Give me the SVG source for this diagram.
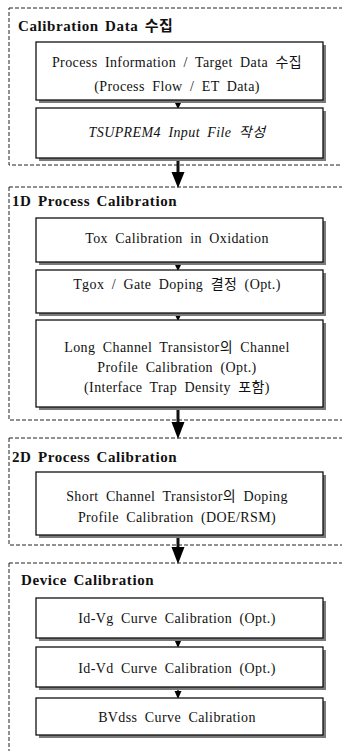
<svg xmlns="http://www.w3.org/2000/svg" width="342" height="751" viewBox="0 0 342 751">
<style>
.sec{fill:none;stroke:#222;stroke-width:1;stroke-dasharray:4,2}
.box{fill:#fff;stroke:#111;stroke-width:1.3}
.sh{fill:#7a7a7a}
.t{font-family:'Liberation Serif','DejaVu Serif','Noto Sans CJK KR',serif;font-size:14px;fill:#111;text-anchor:middle;word-spacing:3.5px;letter-spacing:0.4px}
.h{font-family:'Liberation Serif','DejaVu Serif','Noto Sans CJK KR',serif;font-size:15px;font-weight:bold;fill:#111;letter-spacing:0.6px;word-spacing:2px}
.ln{stroke:#111;stroke-width:1.5}
.lb{stroke:#111;stroke-width:3}
</style>
<rect width="342" height="751" fill="#fff"/>
<g id="sec1"><rect class="sec" x="9" y="8" width="345" height="157"/><text class="h" x="18" y="31">Calibration Data 수집</text></g>
<g id="sec2"><rect class="sec" x="9" y="187" width="345" height="233"/><text class="h" x="12" y="206">1D Process Calibration</text></g>
<g id="sec3"><rect class="sec" x="9" y="438" width="345" height="107"/><text class="h" x="12" y="462">2D Process Calibration</text></g>
<g id="sec4"><rect class="sec" x="9" y="563" width="345" height="200"/><text class="h" x="21" y="585">Device Calibration</text></g>
<g id="connectors">
<line class="ln" x1="178" y1="100" x2="178" y2="104"/><polygon points="174.5,102 181.5,102 178,109"/>
<line class="lb" x1="178" y1="158" x2="178" y2="174"/><polygon points="171.5,172 184.5,172 178,188"/>
<line class="ln" x1="178" y1="262" x2="178" y2="266"/><polygon points="174.5,264 181.5,264 178,271"/>
<line class="ln" x1="178" y1="313" x2="178" y2="316"/><polygon points="174.5,314 181.5,314 178,321"/>
<line class="lb" x1="178" y1="407" x2="178" y2="424"/><polygon points="171.5,422 184.5,422 178,439"/>
<line class="lb" x1="178" y1="535" x2="178" y2="549"/><polygon points="171.5,547 184.5,547 178,564"/>
<line class="ln" x1="178" y1="638" x2="178" y2="642"/><polygon points="174.5,640 181.5,640 178,648"/>
<line class="ln" x1="178" y1="687" x2="178" y2="692"/><polygon points="174.5,691 181.5,691 178,699"/>
</g>
<g id="n1"><rect class="sh" x="39" y="45" width="287" height="58"/><rect class="box" x="36" y="42" width="287" height="58"/><text class="t" x="177" y="67">Process Information / Target Data 수집</text><text class="t" x="177" y="91">(Process Flow / ET Data)</text></g>
<g id="n2"><rect class="sh" x="39" y="111" width="287" height="50"/><rect class="box" x="36" y="108" width="287" height="50"/><text class="t" x="177" y="137" font-style="italic">TSUPREM4 Input File 작성</text></g>
<g id="n3"><rect class="sh" x="39" y="221" width="287" height="44"/><rect class="box" x="36" y="218" width="287" height="44"/><text class="t" x="177" y="243">Tox Calibration in Oxidation</text></g>
<g id="n4"><rect class="sh" x="39" y="273" width="287" height="43"/><rect class="box" x="36" y="270" width="287" height="43"/><text class="t" x="177" y="289">Tgox / Gate Doping 결정 (Opt.)</text></g>
<g id="n5"><rect class="sh" x="39" y="323" width="287" height="87"/><rect class="box" x="36" y="320" width="287" height="87"/><text class="t" x="177" y="352">Long Channel Transistor의 Channel</text><text class="t" x="177" y="372">Profile Calibration (Opt.)</text><text class="t" x="177" y="392">(Interface Trap Density 포함)</text></g>
<g id="n6"><rect class="sh" x="39" y="475" width="287" height="63"/><rect class="box" x="36" y="472" width="287" height="63"/><text class="t" x="177" y="501">Short Channel Transistor의 Doping</text><text class="t" x="177" y="522">Profile Calibration (DOE/RSM)</text></g>
<g id="n7"><rect class="sh" x="39" y="601" width="287" height="40"/><rect class="box" x="36" y="598" width="287" height="40"/><text class="t" x="177" y="623">Id-Vg Curve Calibration (Opt.)</text></g>
<g id="n8"><rect class="sh" x="39" y="650" width="287" height="40"/><rect class="box" x="36" y="647" width="287" height="40"/><text class="t" x="177" y="673">Id-Vd Curve Calibration (Opt.)</text></g>
<g id="n9"><rect class="sh" x="39" y="701" width="287" height="37"/><rect class="box" x="36" y="698" width="287" height="37"/><text class="t" x="177" y="722">BVdss Curve Calibration</text></g>
</svg>
